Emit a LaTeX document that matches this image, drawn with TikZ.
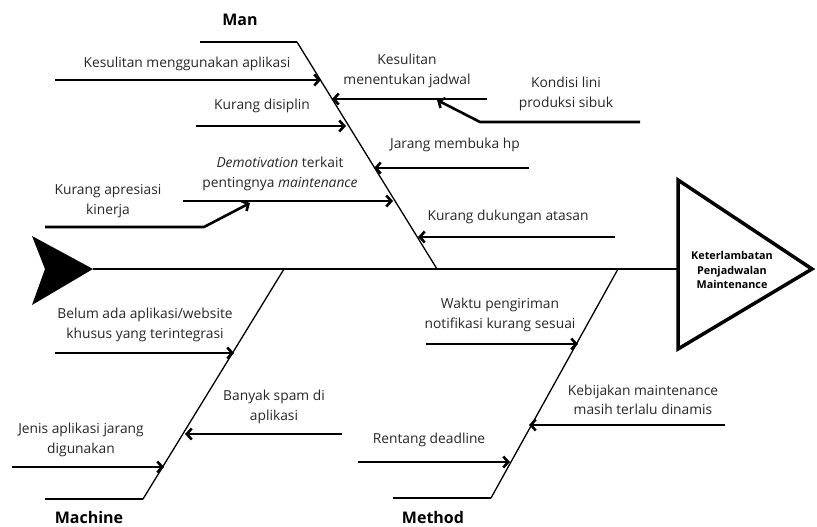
\documentclass[tikz,border=0pt]{standalone}
\usepackage{fontspec}
\setmainfont{Open Sans}
\usetikzlibrary{arrows.meta}
\begin{document}
\begin{tikzpicture}[x=1pt,y=-1pt,
  lbl/.style={align=center,inner sep=0pt,text=black!85,font=\fontsize{13.8}{19.5}\selectfont},
  title/.style={inner sep=0pt,font=\fontsize{16}{18}\selectfont\bfseries},
  cause/.style={line width=2.6pt,-{Straight Barb[length=5pt,width=11pt]}},
  plain/.style={line width=2.6pt},
  bone/.style={line width=1.3pt},
  spine/.style={line width=1.3pt}]
\useasboundingbox (0,0) rectangle (817,527);
% spine and tail
\coordinate (tail) at (93,269);
\coordinate (head) at (678,269);
\fill (tail) -- (32,236) -- (45,269) -- (32,305) -- cycle;
\draw[spine] (tail) -- (head);
% effect triangle
\coordinate (t1) at (678,180);
\coordinate (t2) at (812,269);
\coordinate (t3) at (678,349);
\draw[line width=3.5pt,line join=miter] (t1) -- (t2) -- (t3) -- cycle;
\node[align=center,inner sep=0pt,font=\fontsize{10.8}{14.5}\selectfont\bfseries] (effect) at (732,270) {Keterlambatan\\Penjadwalan\\Maintenance};
% Man bone
\coordinate (mantop) at (297,42);
\coordinate (manend) at (200,42);
\coordinate (manfoot) at (437,269);
\draw[plain] (manend) -- (mantop);
\draw[bone] (mantop) -- (manfoot);
\node[title] (man) at (240,20) {Man};
% Machine bone
\coordinate (machtop) at (284,269);
\coordinate (machbot) at (143,499);
\coordinate (machend) at (45,499);
\draw[bone] (machtop) -- (machbot);
\draw[plain] (machbot) -- (machend);
\node[title] (machine) at (89,517) {Machine};
% Method bone
\coordinate (methtop) at (618,269);
\coordinate (methbot) at (491,498);
\coordinate (methend) at (393,498);
\draw[bone] (methtop) -- (methbot);
\draw[plain] (methbot) -- (methend);
\node[title] (method) at (433,517) {Method};
% ---- Man causes
\coordinate (a1s) at (55,80);  \coordinate (a1e) at (321,80);
\draw[cause] (a1s) -- (a1e);
\node[lbl] (l1) at (187,64) {Kesulitan menggunakan aplikasi};
\coordinate (a2s) at (196,126);  \coordinate (a2e) at (346,126);
\draw[cause] (a2s) -- (a2e);
\node[lbl] (l2) at (262,106) {Kurang disiplin};
\coordinate (a3s) at (183,201);  \coordinate (a3e) at (393,201);
\draw[cause] (a3s) -- (a3e);
\node[lbl] (l3) at (280,174) {\itshape Demotivation\upshape{} terkait\\pentingnya \itshape maintenance};
\coordinate (a4s) at (45,227);  \coordinate (a4m) at (204,227);  \coordinate (a4e) at (250,203);
\draw[cause,line join=round] (a4s) -- (a4m) -- (a4e);
\node[lbl] (l4) at (108,201) {Kurang apresiasi\\kinerja};
\coordinate (a5s) at (487,99);  \coordinate (a5e) at (332,99);
\draw[cause] (a5s) -- (a5e);
\node[lbl] (l5) at (407,71) {Kesulitan\\menentukan jadwal};
\coordinate (a6s) at (640,122);  \coordinate (a6m) at (480,122);  \coordinate (a6e) at (437,100);
\draw[cause,line join=round] (a6s) -- (a6m) -- (a6e);
\node[lbl] (l6) at (566,94) {Kondisi lini\\produksi sibuk};
\coordinate (a7s) at (529,168);  \coordinate (a7e) at (374,168);
\draw[cause] (a7s) -- (a7e);
\node[lbl] (l7) at (455,145) {Jarang membuka hp};
\coordinate (a8s) at (615,237);  \coordinate (a8e) at (418,237);
\draw[cause] (a8s) -- (a8e);
\node[lbl] (l8) at (508,217) {Kurang dukungan atasan};
% ---- Machine causes
\coordinate (b1s) at (55,353);  \coordinate (b1e) at (234,353);
\draw[cause] (b1s) -- (b1e);
\node[lbl] (m1) at (145,325) {Belum ada aplikasi/website\\khusus yang terintegrasi};
\coordinate (b2s) at (342,434);  \coordinate (b2e) at (185,434);
\draw[cause] (b2s) -- (b2e);
\node[lbl] (m2) at (274,407) {Banyak spam di\\aplikasi};
\coordinate (b3s) at (12,467);  \coordinate (b3e) at (164,467);
\draw[cause] (b3s) -- (b3e);
\node[lbl] (m3) at (81,440) {Jenis aplikasi jarang\\digunakan};
% ---- Method causes
\coordinate (c1s) at (426,344);  \coordinate (c1e) at (578,344);
\draw[cause] (c1s) -- (c1e);
\node[lbl] (n1) at (500,315) {Waktu pengiriman\\notifikasi kurang sesuai};
\coordinate (c2s) at (725,425);  \coordinate (c2e) at (529,425);
\draw[cause] (c2s) -- (c2e);
\node[lbl] (n2) at (643,400) {Kebijakan maintenance\\masih terlalu dinamis};
\coordinate (c3s) at (358,462);  \coordinate (c3e) at (510,462);
\draw[cause] (c3s) -- (c3e);
\node[lbl] (n3) at (429,440) {Rentang deadline};
\end{tikzpicture}
\end{document}
